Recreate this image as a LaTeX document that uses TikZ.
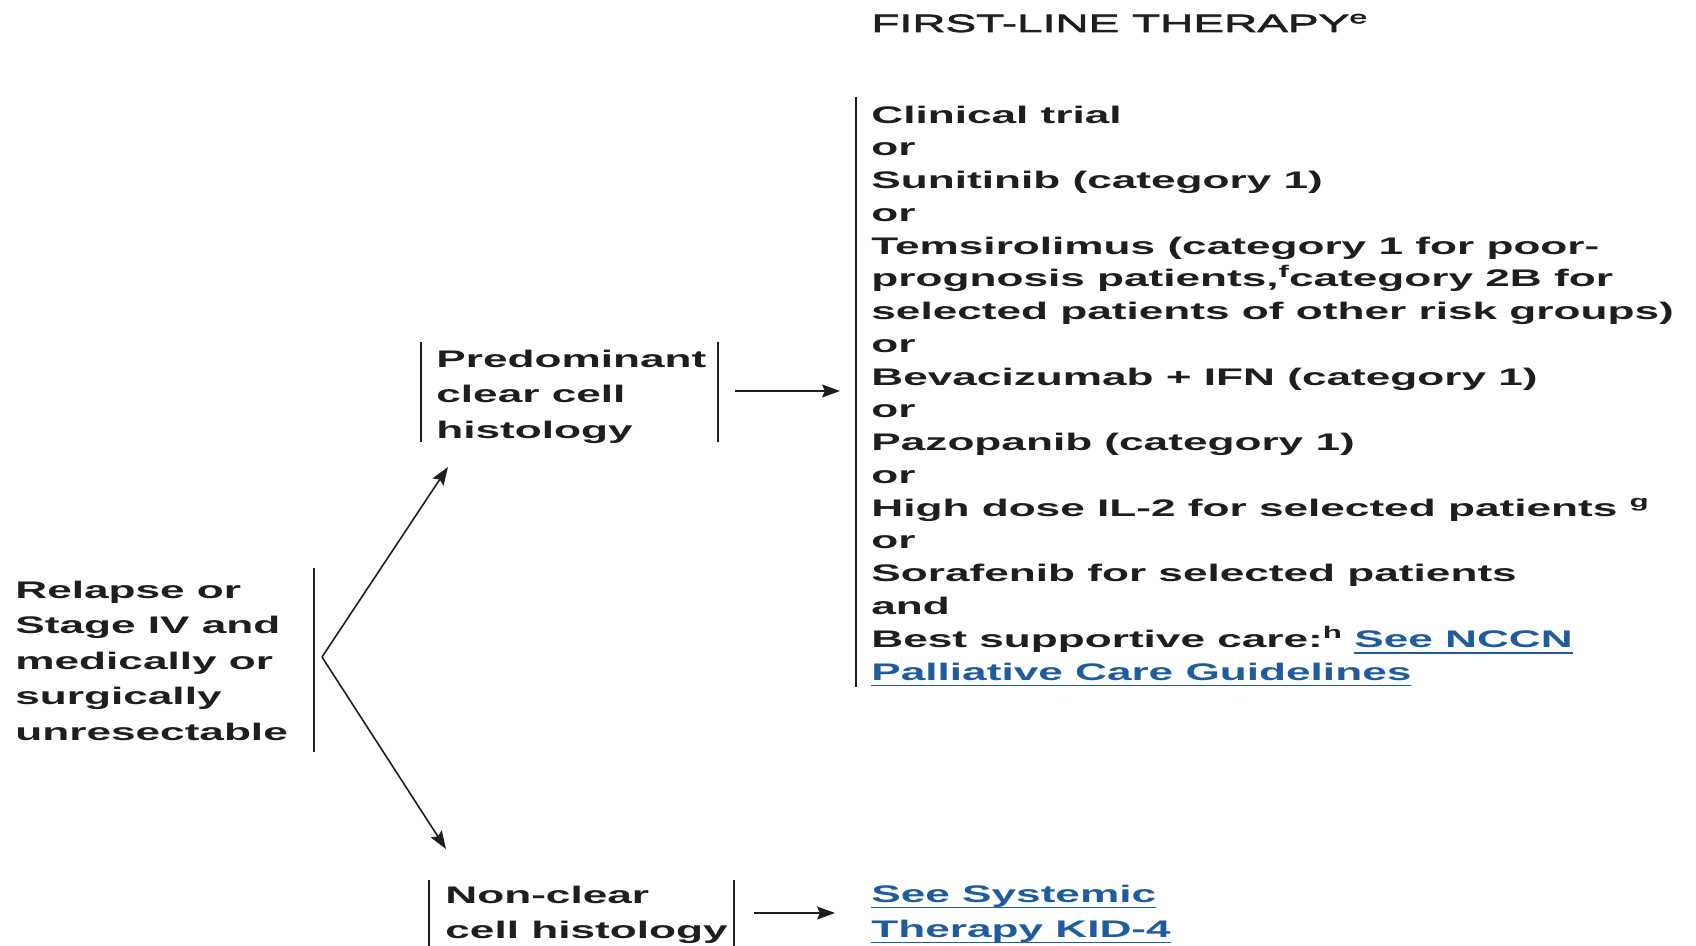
\documentclass[tikz,border=0pt]{standalone}
\usepackage{fontspec}
\setmainfont{Liberation Sans}[FakeStretch=1.84]
\newfontfamily\titlefont{Liberation Sans}[FakeStretch=1.84,FakeBold=2.5]
\usetikzlibrary{arrows.meta}
\definecolor{txt}{RGB}{30,30,30}
\definecolor{lnk}{RGB}{31,92,158}
\newcommand{\lk}[1]{{\color{lnk}\setbox0\hbox{#1}\rlap{\rule[-3.2pt]{\wd0}{0.9pt}}\box0}}
\newcommand{\sups}[1]{\raisebox{4.5pt}{\fontsize{8.5}{9}\selectfont #1}}
\begin{document}
\begin{tikzpicture}[x=0.5pt,y=-0.5pt,
  txtbox/.style={anchor=base west, inner sep=0pt, align=left, text=txt, font=\fontsize{12}{17.75}\selectfont\bfseries},
  bar/.style={line width=1pt, draw=txt},
  arr/.style={line width=0.8pt, draw=txt, -{Stealth[length=9pt,width=6.5pt,inset=1.5pt]}}]
\useasboundingbox (0,0) rectangle (1696,946);

\node[anchor=base west, inner sep=0pt, text=txt, font=\fontsize{12.5}{14}\selectfont\titlefont] (title) at (871,32) {FIRST-LINE THERAPY\textsuperscript{e}};

\node[txtbox] (relapse) at (15,740) {Relapse or\\Stage IV and\\medically or\\surgically\\unresectable};
\node[txtbox] (pred) at (436,438) {Predominant\\clear cell\\histology};
\node[txtbox, font=\fontsize{12}{17.5}\selectfont\bfseries] (nonclear) at (445,938) {Non-clear\\cell histology};
\node[txtbox, font=\fontsize{12}{17.5}\selectfont\bfseries] (kid) at (871,937) {\lk{See Systemic}\\\lk{Therapy KID-4}};
\node[txtbox, font=\fontsize{12}{16.38}\selectfont\bfseries] (therapy) at (871,680) {Clinical trial\\
or\\
Sunitinib (category 1)\\
or\\
Temsirolimus (category 1 for poor-\\
prognosis patients,\sups{f}category 2B for\\
selected patients of other risk groups)\\
or\\
Bevacizumab + IFN (category 1)\\
or\\
Pazopanib (category 1)\\
or\\
High dose IL-2 for selected patients \sups{g}\\
or\\
Sorafenib for selected patients\\
and\\
Best supportive care:\sups{h} \lk{See NCCN}\\
\lk{Palliative Care Guidelines}};

% bars
\draw[bar] (314,568) -- (314,752);
\draw[bar] (421,342) -- (421,442);
\draw[bar] (718,342) -- (718,442);
\draw[bar] (429,880) -- (429,946);
\draw[bar] (734,880) -- (734,946);
\draw[bar] (856,97) -- (856,687);

% connectors
\coordinate (apex) at (322,657);
\coordinate (uptip) at (448,467);
\coordinate (dntip) at (446,849);
\coordinate (predout) at (735,391);
\coordinate (therin) at (840,391);
\coordinate (ncout) at (754,913);
\coordinate (kidin) at (835,913);
\draw[arr] (apex) -- (uptip);
\draw[arr] (apex) -- (dntip);
\draw[arr] (predout) -- (therin);
\draw[arr] (ncout) -- (kidin);
\end{tikzpicture}
\end{document}
